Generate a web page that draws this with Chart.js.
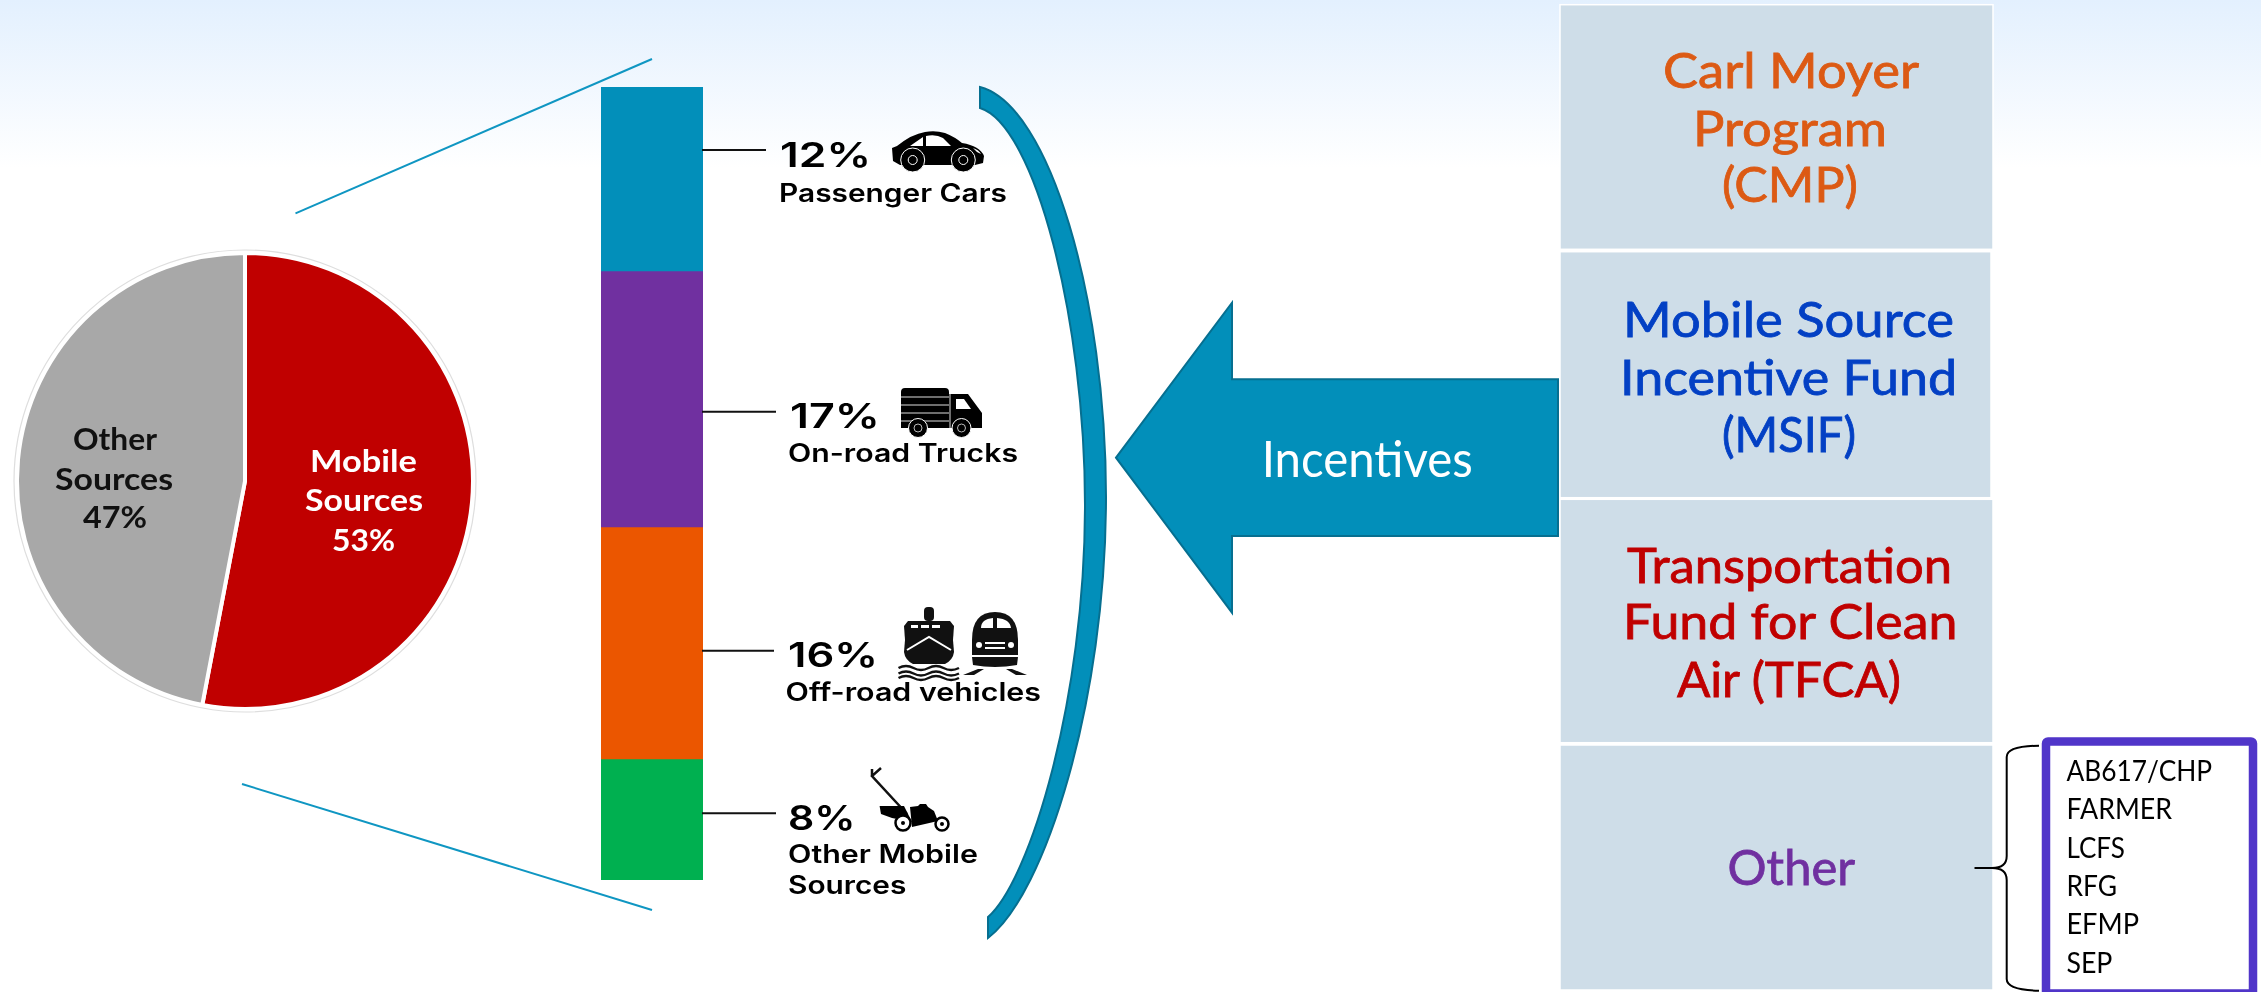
<!DOCTYPE html>
<html>
<head>
<meta charset="utf-8">
<style>
html,body{margin:0;padding:0;width:2261px;height:992px;overflow:hidden;background:#fff;}
#bg{position:absolute;left:0;top:0;width:2261px;height:168px;background:linear-gradient(#E3F0FE,#FFFFFF);}
canvas{position:absolute;}
#pie{left:5px;top:241px;}
#bar{left:601px;top:87px;}
svg{position:absolute;left:0;top:0;}
</style>
<script src="https://cdn.jsdelivr.net/npm/chart.js@4"></script>
</head>
<body>
<div id="bg"></div>
<canvas id="pie" width="480" height="480"></canvas>
<canvas id="bar" width="102" height="793"></canvas>
<svg id="s" width="2261" height="992" xmlns="http://www.w3.org/2000/svg"></svg>
<script>
// ---- data ----
const pieLabels = ["Mobile Sources", "Other Sources"];
const pieValues = [53, 47];
const pieColors = ["#C00000", "#A8A8A8"];
const mobileLabels = ["Passenger Cars", "On-road Trucks", "Off-road vehicles", "Other Mobile Sources"];
// percentages as printed beside the bar
const mobileValues = [12, 17, 16, 8];
const mobileDrawnHeights = [12.3, 17.1, 15.5, 8.1];
const mobileColors = ["#028FBA", "#7030A0", "#EB5600", "#00B050"];
const otherPrograms = ["AB617/CHP", "FARMER", "LCFS", "RFG", "EFMP", "SEP"];

// ---- charts ----
new Chart(document.getElementById("pie"), {
  type: "pie",
  data: { labels: pieLabels, datasets: [{ data: pieValues, backgroundColor: pieColors, borderColor: "#FFFFFF", borderWidth: 4 }] },
  options: { responsive: false, animation: false, radius: 228,
    plugins: { legend: { display: false }, tooltip: { enabled: false } } }
});
new Chart(document.getElementById("bar"), {
  type: "bar",
  data: { labels: ["Mobile Sources"],
    datasets: mobileLabels.map((l, i) => ({ label: l, data: [mobileDrawnHeights[i]], backgroundColor: mobileColors[i], barPercentage: 1, categoryPercentage: 1 })) },
  options: { responsive: false, animation: false,
    layout: { padding: 0 },
    scales: { x: { display: false, stacked: true },
              y: { display: false, stacked: true, reverse: true, min: 0, max: 53 } },
    plugins: { legend: { display: false }, tooltip: { enabled: false } } }
});

// ---- annotations ----
const NS = "http://www.w3.org/2000/svg";
const svg = document.getElementById("s");
function el(name, attrs, parent) {
  const e = document.createElementNS(NS, name);
  for (const k in attrs) e.setAttribute(k, attrs[k]);
  (parent || svg).appendChild(e);
  return e;
}
function txt(str, x0, x1, y, size, color, family, weight, extra) {
  const e = el("text", Object.assign({ x: x0, y: y, fill: color, "font-size": size, "font-family": family, "font-weight": weight,
    textLength: x1 - x0, lengthAdjust: "spacingAndGlyphs" }, extra || {}));
  e.textContent = str;
}
const LATO = "Lato, 'Open Sans', sans-serif", INTER = "Inter, 'Noto Sans', sans-serif";

// pie outer ring
el("circle", { cx: 245, cy: 481, r: 231, fill: "none", stroke: "#DEDEDE", "stroke-width": 1.2 });

// zoom lines
el("line", { x1: 295.5, y1: 213.3, x2: 652, y2: 59, stroke: "#0F96C2", "stroke-width": 2 });
el("line", { x1: 242, y1: 784, x2: 652, y2: 910, stroke: "#0F96C2", "stroke-width": 2 });

// pie text
txt("Mobile", 310, 417, 472, 31, "#FFFFFF", LATO, 700);
txt("Sources", 305, 423, 511, 31, "#FFFFFF", LATO, 700);
txt(pieValues[0] + "%", 332, 395, 551, 31, "#FFFFFF", LATO, 700);
txt("Other", 73, 157, 450, 31, "#111111", LATO, 700);
txt("Sources", 55, 173, 489.5, 31, "#111111", LATO, 700);
txt(pieValues[1] + "%", 83, 147, 528, 31, "#111111", LATO, 700);

// leaders
[[150, 766], [411.7, 776], [650.7, 774], [813.3, 776]].forEach(l =>
  el("line", { x1: 702, y1: l[0], x2: l[1], y2: l[0], stroke: "#111111", "stroke-width": 2 }));

// segment labels
txt(mobileValues[0] + "%", 780, 871, 167.3, 34, "#000", INTER, 600);
txt(mobileLabels[0], 779, 1007, 201.7, 25, "#000", INTER, 600);
txt(mobileValues[1] + "%", 790, 880, 428, 34, "#000", INTER, 600);
txt(mobileLabels[1], 788, 1018, 461.7, 25, "#000", INTER, 600);
txt(mobileValues[2] + "%", 788, 878, 666.7, 34, "#000", INTER, 600);
txt(mobileLabels[2], 785.6, 1041, 700.7, 25, "#000", INTER, 600);
txt(mobileValues[3] + "%", 788, 855.5, 830, 34, "#000", INTER, 600);
txt("Other Mobile", 788, 978, 862.7, 25, "#000", INTER, 600);
txt("Sources", 788, 906.4, 894.3, 25, "#000", INTER, 600);

// car icon
el("path", { fill: "#000", d: "M892,148 L897,146 Q912,134 925,132 Q935,130 945,133 Q955,137 962,143 Q980,146 984,156 L983,163 L975,165 L900,165 L893,161 Z" });
el("path", { fill: "#FFF", d: "M910,146 L923,137 L923,146 Z M926,136 Q936,134 943,138 L951,146 L926,146 Z M973,148 Q979,150 981,154 Q976,152 973,148 Z" });
[[912.7, 160], [963.3, 160]].forEach(c => {
  el("circle", { cx: c[0], cy: c[1], r: 12, fill: "#000", stroke: "#FFF", "stroke-width": 1 });
  el("circle", { cx: c[0], cy: c[1], r: 4.5, fill: "#000", stroke: "#FFF", "stroke-width": 1 });
});

// truck icon
el("path", { fill: "#000", d: "M901,392 Q901,388 905,388 L945,388 Q949,388 949,392 L949,394 L968,394 L982,413 L982,428 L901,428 Z" });
[397, 405, 413, 421].forEach(y => el("line", { x1: 901, y1: y, x2: 949, y2: y, stroke: "#DDD", "stroke-width": 1 }));
el("line", { x1: 950, y1: 394, x2: 950, y2: 428, stroke: "#DDD", "stroke-width": 1 });
el("path", { fill: "#FFF", d: "M956,399 L964,399 L971,409 L956,409 Z" });
[[918, 428], [961.5, 428]].forEach(c => {
  el("circle", { cx: c[0], cy: c[1], r: 9.5, fill: "#000", stroke: "#FFF", "stroke-width": 1 });
  el("circle", { cx: c[0], cy: c[1], r: 4, fill: "#000", stroke: "#BBB", "stroke-width": 1 });
});

// ship icon
el("rect", { x: 924, y: 607, width: 10, height: 14, rx: 4, fill: "#111" });
el("path", { fill: "#111", d: "M908,621 L950,621 L954,626 L953,640 L905,640 L904,626 Z" });
el("path", { fill: "#FFF", d: "M911,625 h7 v3 h-7 Z M921,625 h8 v3 h-8 Z M932,625 h8 v3 h-8 Z" });
el("path", { fill: "#111", d: "M905,640 L953,640 L954,652 Q953,660 945,664 L913,664 Q905,660 904,652 Z" });
el("path", { fill: "none", stroke: "#FFF", "stroke-width": 2, d: "M907,650 L929,637 L951,650" });
[668, 673.5, 678].forEach(y => el("path", { fill: "none", stroke: "#111", "stroke-width": 2.5,
  d: "M898.5," + y + " q7.5,-4 15,0 t15,0 t15,0 t15.5,0" }));

// train icon
el("path", { fill: "#111", d: "M972,640 Q972,612 995,612 Q1018,612 1018,640 L1018,655 L972,655 Z" });
el("path", { fill: "#FFF", d: "M981,628 Q981,619 993,618 L993,628 Z M997,618 Q1010,619 1011,628 L997,628 Z M985,642 h20 v2 h-20 Z M985,647 h20 v2 h-20 Z" });
el("circle", { cx: 979, cy: 645, r: 3, fill: "#FFF" });
el("circle", { cx: 1011, cy: 645, r: 3, fill: "#FFF" });
el("path", { fill: "#111", d: "M972,657 L1018,657 L1017,665 Q995,669 973,665 Z" });
el("path", { fill: "#111", d: "M963,675 L978,669 L984,669 L974,675 Z M1027,675 L1012,669 L1006,669 L1016,675 Z" });

// mower icon
el("path", { fill: "none", stroke: "#111", "stroke-width": 2.5, d: "M907,814 L872,776 L881,768 M872,776 L872,769" });
el("path", { fill: "#000", d: "M879.6,806 L904,806 L912,822 L892,818 L881,814 Z" });
el("path", { fill: "#000", d: "M910,807 L918,806 L920,804 L926,804 L928,807 L934,811 L938,821 L912,827 Z" });
[[903, 823, 7.5], [942, 824, 6.5]].forEach(c => {
  el("circle", { cx: c[0], cy: c[1], r: c[2], fill: "#FFF", stroke: "#000", "stroke-width": 2.5 });
  el("circle", { cx: c[0], cy: c[1], r: 2, fill: "#000" });
});

// crescent
el("path", { fill: "#028FBA", stroke: "#066F90", "stroke-width": 2,
  d: "M980,87 C1050,105 1106,300 1106,497 C1106,700 1045,895 988,938 L988,917 C1030,880 1085,700 1085,505 C1085,320 1035,125 980,108 Z" });

// arrow
el("polygon", { points: "1116,457.7 1232,302.7 1232,379.3 1558,379.3 1558,536 1232,536 1232,612.7", fill: "#028FBA", stroke: "#066F90", "stroke-width": 2 });
txt("Incentives", 1261.7, 1472.7, 476.7, 50, "#FFFFFF", LATO, 400);

// program boxes
[[1560, 4.7, 433, 244.6], [1560, 251.7, 431, 246], [1560, 499.3, 433, 243.4], [1560, 745, 433, 245]].forEach(b =>
  el("rect", { x: b[0], y: b[1], width: b[2], height: b[3], fill: "#CEDDE8", stroke: "#FFFFFF", "stroke-width": 1.5 }));
const heavy = c => ({ stroke: c, "stroke-width": 0.8 });
[["Carl Moyer", 1663, 1919, 88.3], ["Program", 1693, 1887, 145.7], ["(CMP)", 1722, 1858, 202.3]].forEach(t =>
  txt(t[0], t[1], t[2], t[3], 48, "#DC5A14", LATO, 400, heavy("#DC5A14")));
[["Mobile Source", 1623, 1954, 336.7], ["Incentive Fund", 1620, 1957, 395], ["(MSIF)", 1722, 1856, 451.7]].forEach(t =>
  txt(t[0], t[1], t[2], t[3], 48, "#0340C4", LATO, 400, heavy("#0340C4")));
[["Transportation", 1627, 1952, 582.7], ["Fund for Clean", 1623, 1957.5, 639.3], ["Air (TFCA)", 1677, 1901, 697.3]].forEach(t =>
  txt(t[0], t[1], t[2], t[3], 48, "#C00000", LATO, 400, heavy("#C00000")));
txt("Other", 1727.6, 1855, 885, 48, "#7030A0", LATO, 400, heavy("#7030A0"));

// brace
el("path", { fill: "none", stroke: "#000", "stroke-width": 2,
  d: "M2039,745.7 Q2006.7,746 2006.7,757 L2006.7,856 Q2006.7,868 1992,868 L1974.5,868 L1992,868 Q2006.7,868 2006.7,880 L2006.7,979 Q2006.7,990 2039,990.7" });

// list box
el("rect", { x: 2046, y: 741.5, width: 207, height: 252, rx: 2, fill: "#FFFFFF", stroke: "#5035C9", "stroke-width": 8.5 });
const listW = [145.7, 105.7, 58.4, 50.6, 72.6, 46];
const listY = [780.7, 819, 857.7, 896, 934.3, 972.7];
otherPrograms.forEach((p, i) => txt(p, 2066.4, 2066.4 + listW[i], listY[i], 29, "#000", LATO, 400));
</script>
</body>
</html>
